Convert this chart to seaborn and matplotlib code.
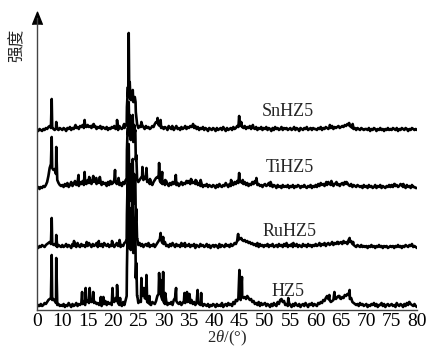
"""
plot.py
-------
XRD patterns of HZ5 and the metal-modified samples (RuHZ5, TiHZ5, SnHZ5),
stacked with a vertical offset. Saves out.png.
"""
import matplotlib
matplotlib.use("Agg")
import matplotlib.pyplot as plt
import numpy as np
import seaborn as sns

sns.set_theme(style="white")
plt.rcParams["font.family"] = ["Liberation Serif", "DejaVu Serif"]
plt.rcParams["mathtext.fontset"] = "custom"
plt.rcParams["mathtext.rm"] = "Liberation Serif"
plt.rcParams["mathtext.it"] = "Liberation Serif:italic"

# 2theta grid of the background scan, 5..80 deg every 0.25 deg
GRID = np.arange(5.0, 80.001, 0.25)

XTICKS = [5, 10, 15, 20, 25, 30, 35, 40, 45, 50, 55, 60, 65, 70, 75, 80]
XTICK_LABELS = ["0", "10", "15", "20", "25", "30", "35", "40", "45",
                "50", "55", "60", "65", "70", "75", "80"]

SAMPLES = ["HZ5", "RuHZ5", "TiHZ5", "SnHZ5"]
OFFSETS = [2, 61, 120, 178]

# background intensity (a.u.) on GRID, one row = 5 deg
HZ5_BG = [
    1, 3, 2, 4, 2, 3, 5, 4, 6, 8, 9, 10, 8, 9, 7, 5, 3, 4, 2, 3,
    2, 4, 1, 3, 2, 5, 3, 1, 4, 2, 3, 5, 2, 4, 3, 5, 4, 6, 3, 6,
    7, 5, 9, 6, 8, 5, 6, 4, 5, 3, 6, 2, 5, 4, 7, 3, 6, 4, 5, 3,
    8, 6, 10, 7, 5, 3, 4, 2, 6, 3, 8, 40, 60, 70, 58, 75, 55, 65, 30, 12,
    5, 7, 6, 12, 15, 10, 9, 6, 5, 4, 3, 6, 5, 4, 7, 12, 14, 16, 12, 8,
    6, 4, 7, 3, 5, 4, 6, 3, 8, 10, 7, 5, 4, 6, 3, 5, 7, 5, 8, 6,
    7, 5, 8, 4, 6, 3, 5, 6, 4, 3, 5, 2, 4, 3, 2, 4, 1, 3, 2, 4,
    3, 1, 4, 2, 3, 2, 5, 1, 3, 4, 2, 5, 3, 4, 2, 6, 4, 8, 7, 10,
    12, 14, 12, 10, 11, 9, 12, 10, 8, 9, 6, 7, 4, 5, 3, 6, 2, 5, 3, 4,
    5, 2, 4, 3, 1, 4, 2, 5, 3, 2, 6, 4, 8, 9, 6, 7, 3, 4, 2, 5,
    3, 1, 4, 2, 5, 3, 2, 4, 1, 3, 4, 2, 5, 3, 1, 4, 3, 5, 2, 4,
    3, 2, 5, 4, 6, 5, 8, 7, 10, 12, 9, 8, 6, 7, 8, 10, 9, 11, 12, 10,
    9, 11, 10, 13, 12, 14, 13, 9, 10, 6, 5, 4, 3, 4, 2, 5, 3, 4, 2, 3,
    4, 1, 3, 2, 4, 3, 5, 2, 4, 1, 3, 3, 5, 2, 4, 1, 3, 4, 2, 3,
    4, 2, 3, 1, 5, 3, 2, 4, 3, 1, 4, 2, 5, 3, 6, 4, 3, 2, 4, 2,
    1]
RU_BG = [
    2, 1, 3, 2, 4, 3, 2, 4, 5, 6, 7, 5, 6, 4, 5, 3, 2, 4, 3, 2,
    4, 2, 3, 5, 2, 4, 3, 1, 5, 3, 4, 2, 6, 3, 2, 5, 3, 4, 2, 5,
    3, 6, 4, 2, 5, 3, 4, 6, 2, 4, 3, 5, 2, 6, 4, 3, 5, 2, 4, 3,
    5, 2, 4, 6, 3, 5, 2, 4, 3, 6, 7, 35, 50, 60, 48, 62, 45, 55, 28, 10,
    4, 6, 3, 5, 2, 4, 5, 3, 6, 2, 4, 3, 5, 2, 4, 6, 8, 10, 9, 6,
    5, 7, 3, 4, 2, 5, 3, 6, 4, 2, 5, 3, 4, 2, 6, 3, 5, 2, 4, 3,
    5, 2, 4, 3, 5, 1, 4, 3, 2, 5, 3, 4, 2, 3, 5, 2, 4, 1, 3, 4,
    2, 4, 3, 1, 5, 2, 4, 3, 2, 5, 3, 4, 2, 5, 3, 4, 6, 5, 8, 9,
    11, 10, 9, 8, 9, 7, 8, 6, 7, 5, 6, 4, 5, 3, 6, 2, 5, 3, 4, 2,
    4, 3, 5, 2, 4, 3, 5, 2, 3, 4, 2, 5, 3, 4, 2, 5, 3, 6, 2, 4,
    3, 5, 2, 4, 3, 5, 2, 4, 3, 2, 5, 3, 4, 2, 5, 3, 4, 2, 4, 3,
    5, 3, 4, 6, 3, 5, 4, 6, 3, 5, 6, 4, 5, 7, 4, 6, 5, 7, 5, 6,
    7, 5, 8, 6, 7, 5, 9, 7, 8, 5, 4, 3, 2, 4, 3, 2, 4, 2, 3, 2,
    3, 1, 3, 2, 4, 2, 3, 1, 3, 2, 4, 2, 3, 1, 3, 2, 3, 1, 2, 3,
    2, 3, 1, 3, 2, 4, 2, 3, 1, 3, 2, 4, 3, 2, 4, 3, 5, 2, 3, 2,
    1]
TI_BG = [
    2, 3, 1, 3, 2, 4, 3, 5, 8, 14, 22, 26, 22, 20, 21, 16, 10, 7, 5, 4,
    5, 3, 6, 4, 7, 3, 5, 8, 4, 6, 9, 5, 7, 4, 8, 6, 9, 5, 7, 6,
    10, 7, 9, 6, 11, 8, 10, 6, 9, 7, 10, 5, 8, 6, 7, 4, 8, 5, 9, 6,
    7, 10, 8, 6, 9, 5, 7, 4, 8, 6, 10, 40, 55, 62, 50, 65, 48, 58, 30, 12,
    8, 10, 12, 14, 10, 13, 11, 8, 9, 6, 7, 5, 8, 10, 12, 13, 12, 9, 7, 6,
    8, 5, 9, 6, 4, 7, 5, 8, 6, 9, 5, 7, 4, 6, 8, 5, 7, 6, 9, 7,
    9, 6, 10, 7, 8, 6, 9, 5, 7, 4, 6, 3, 5, 4, 6, 3, 5, 4, 3, 5,
    4, 2, 5, 3, 6, 4, 3, 5, 4, 7, 5, 3, 6, 4, 7, 5, 8, 6, 9, 7,
    10, 8, 7, 6, 8, 5, 7, 4, 6, 5, 8, 6, 9, 7, 5, 6, 4, 5, 3, 5,
    6, 4, 5, 7, 4, 6, 3, 5, 4, 2, 5, 3, 4, 2, 5, 3, 4, 3, 5, 2,
    4, 3, 5, 2, 4, 3, 5, 4, 2, 4, 3, 5, 3, 2, 4, 3, 5, 2, 4, 3,
    5, 3, 6, 4, 7, 5, 6, 4, 7, 5, 8, 6, 5, 7, 4, 6, 7, 5, 6, 4,
    6, 7, 5, 8, 6, 7, 5, 4, 6, 3, 5, 4, 3, 5, 4, 3, 4, 2, 5, 3,
    4, 2, 5, 3, 4, 2, 3, 5, 2, 4, 3, 5, 2, 4, 3, 2, 4, 3, 5, 3,
    5, 3, 6, 4, 5, 3, 4, 6, 5, 3, 4, 2, 5, 3, 4, 2, 5, 3, 3, 2,
    2]
SN_BG = [
    2, 1, 3, 2, 1, 3, 2, 4, 3, 5, 6, 4, 5, 3, 2, 4, 3, 2, 4, 3,
    2, 4, 3, 1, 4, 3, 5, 2, 4, 3, 6, 4, 5, 3, 6, 5, 7, 4, 6, 5,
    7, 5, 6, 4, 7, 5, 6, 3, 5, 4, 6, 3, 5, 4, 3, 5, 2, 4, 3, 5,
    4, 6, 3, 5, 2, 6, 4, 3, 5, 4, 6, 25, 35, 40, 32, 38, 30, 34, 20, 8,
    4, 6, 5, 7, 5, 3, 6, 4, 5, 3, 4, 6, 5, 8, 10, 9, 7, 6, 4, 5,
    3, 5, 4, 2, 6, 4, 3, 5, 2, 4, 6, 3, 4, 2, 5, 3, 4, 6, 3, 5,
    4, 6, 5, 7, 4, 6, 3, 5, 2, 4, 3, 5, 2, 4, 3, 1, 4, 3, 2, 4,
    3, 1, 4, 2, 3, 4, 2, 5, 3, 1, 4, 2, 3, 4, 2, 5, 3, 4, 6, 5,
    7, 6, 5, 4, 6, 3, 5, 4, 6, 3, 5, 4, 3, 5, 2, 4, 3, 5, 2, 4,
    3, 5, 2, 4, 3, 1, 4, 2, 5, 3, 4, 2, 3, 5, 2, 4, 3, 4, 2, 3,
    4, 2, 3, 5, 2, 4, 3, 1, 4, 3, 2, 4, 3, 5, 2, 3, 4, 2, 4, 3,
    3, 2, 4, 3, 5, 2, 4, 3, 5, 4, 3, 5, 4, 6, 3, 5, 4, 5, 6, 4,
    5, 6, 5, 7, 6, 8, 7, 6, 5, 4, 3, 4, 2, 4, 3, 2, 4, 3, 2, 3,
    3, 2, 4, 1, 3, 2, 4, 3, 1, 3, 2, 4, 2, 3, 1, 3, 2, 4, 2, 3,
    2, 4, 3, 2, 4, 1, 3, 2, 4, 3, 2, 4, 3, 1, 3, 2, 4, 3, 2, 3,
    2]

# sharp reflections: (2theta, intensity)
HZ5_PEAKS = [(7.9, 53), (8.8, 50), (13.9, 16), (14.6, 20), (15.4, 20), (16.1, 16),
             (17.6, 11), (18.1, 11), (19.9, 20), (20.8, 23), (21.4, 10),
             (22.7, 12), (22.85, 70), (22.95, 80), (23.1, 125), (23.2, 90),
             (23.3, 100), (23.4, 80), (23.6, 95), (23.7, 90), (23.8, 105),
             (23.9, 110), (24.1, 85), (24.2, 90), (24.3, 80), (24.4, 85),
             (24.6, 45), (24.8, 12),
             (25.6, 30), (26.1, 20), (26.6, 33), (27.2, 12), (29.1, 35), (29.4, 28),
             (29.9, 36), (30.3, 15), (32.45, 20), (34.1, 15), (34.6, 16), (35.1, 14),
             (36.7, 18), (37.4, 15), (44.95, 38), (45.2, 8), (45.45, 31), (54.6, 10),
             (62.7, 13), (63.7, 16), (64.7, 12), (66.7, 18), (78.45, 6)]
RU_PEAKS = [(7.9, 31), (8.8, 14), (12.3, 8), (14.8, 7), (17.2, 8), (19.8, 8),
            (21.3, 9),
            (22.7, 10), (22.85, 60), (22.95, 70), (23.1, 105), (23.2, 75),
            (23.3, 85), (23.4, 70), (23.6, 80), (23.7, 75), (23.8, 85),
            (23.9, 90), (24.1, 70), (24.2, 75), (24.3, 68), (24.4, 70),
            (24.6, 40), (24.8, 10),
            (29.4, 16), (29.9, 12), (34.2, 6), (44.7, 15), (45.3, 11), (55.6, 6),
            (64.4, 7), (66.7, 11), (67.4, 7)]
TI_PEAKS = [(7.9, 53), (8.8, 43), (13.2, 15), (14.4, 18), (15.3, 13), (16.1, 14),
            (16.7, 12), (17.4, 13), (19.3, 8), (20.4, 20), (21.1, 12),
            (22.7, 10), (22.85, 55), (22.95, 62), (23.1, 88), (23.2, 65),
            (23.3, 75), (23.4, 60), (23.6, 70), (23.7, 65), (23.8, 72),
            (23.9, 75), (24.1, 60), (24.2, 65), (24.3, 58), (24.4, 60),
            (24.6, 35), (24.8, 10),
            (25.8, 23), (26.6, 22), (27.3, 11), (29.1, 27), (29.7, 18), (30.3, 10),
            (32.4, 15), (34.6, 9), (35.4, 11), (36.3, 10), (37.3, 10), (43.3, 10),
            (44.9, 17), (45.6, 10), (48.3, 12), (51.1, 8), (62.1, 8), (63.1, 9),
            (64.1, 8), (66.1, 8), (75.6, 6), (77.3, 6)]
SN_PEAKS = [(7.9, 33), (8.8, 10), (12.6, 7), (14.4, 12), (16.2, 8), (20.8, 12),
            (22.2, 8),
            (22.7, 8), (22.85, 35), (22.95, 45), (23.1, 99), (23.2, 40),
            (23.3, 50), (23.4, 38), (23.6, 35), (23.7, 32), (23.8, 38),
            (23.9, 42), (24.1, 30), (24.2, 33), (24.3, 35), (24.45, 30),
            (24.7, 10),
            (25.6, 10), (28.8, 14), (29.4, 12), (31.7, 6), (35.8, 8), (44.9, 16),
            (45.3, 10), (47.6, 7), (62.8, 7), (66.6, 9), (67.3, 8)]

BACKGROUNDS = [HZ5_BG, RU_BG, TI_BG, SN_BG]
PEAKS = [HZ5_PEAKS, RU_PEAKS, TI_PEAKS, SN_PEAKS]

# where the sample names sit (2theta, height)
LABEL_POS = [(54.5, 19), (54.9, 78), (54.9, 142), (54.5, 199)]


def build_pattern(bg, peaks):
    assert len(bg) == len(GRID), len(bg)
    x = np.concatenate([GRID, [p[0] for p in peaks]])
    y = np.concatenate([bg, [p[1] for p in peaks]])
    order = np.argsort(x, kind="stable")
    return x[order], y[order]


fig = plt.figure(figsize=(4.28, 3.5), dpi=100)
ax = fig.add_axes([37 / 428, 40 / 350, 380 / 428, 292 / 350])

for name, off, bg, pk, pos in zip(SAMPLES, OFFSETS, BACKGROUNDS, PEAKS, LABEL_POS):
    x, y = build_pattern(bg, pk)
    sns.lineplot(x=x, y=y + off, ax=ax, color="black", lw=1.9,
                 estimator=None, sort=False)
    ax.text(pos[0], pos[1], name, ha="center", va="center", fontsize=13)

ax.set_xlim(5, 80)
ax.set_ylim(0, 292)
ax.set_xticks(XTICKS)
ax.set_xticklabels(XTICK_LABELS)
ax.tick_params(axis="x", length=0, pad=2, labelsize=14, colors="black")
ax.set_yticks([])
for side in ["top", "right"]:
    ax.spines[side].set_visible(False)
for side in ["left", "bottom"]:
    ax.spines[side].set_color("#444444")
    ax.spines[side].set_linewidth(1.0)

# arrow head on the intensity axis
ax.plot(0, 1, marker=[(-4, -5), (0, 5), (4, -5)], ms=9, color="black",
        transform=ax.transAxes, clip_on=False)

ax.set_xlabel(r"2$\theta$/(°)", fontsize=12, labelpad=-1)
ax.set_ylabel("强度", fontsize=12, family=["Noto Sans CJK SC", "DejaVu Sans"])
ax.yaxis.set_label_coords(-0.03, 0.907)

fig.savefig("out.png", dpi=100)
plt.close(fig)
